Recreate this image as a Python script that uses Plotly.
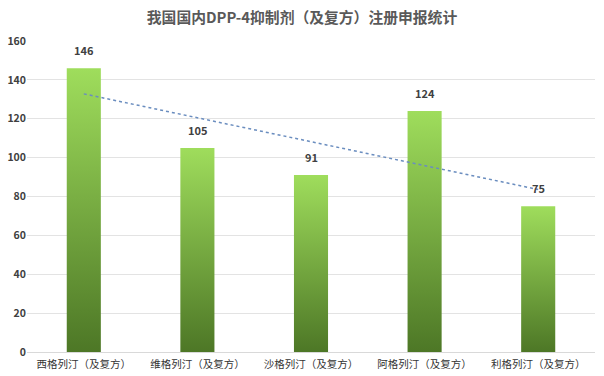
import numpy as np
import plotly.graph_objects as go

categories = ["西格列汀（及复方）", "维格列汀（及复方）", "沙格列汀（及复方）", "阿格列汀（及复方）", "利格列汀（及复方）"]
values = [146, 105, 91, 124, 75]
title = "我国国内DPP-4抑制剂（及复方）注册申报统计"
y_ticks = [0, 20, 40, 60, 80, 100, 120, 140, 160]

FONT = "Noto Sans CJK SC"
TXT = "#404040"
half = 0.15

fig = go.Figure()
idx = list(range(len(categories)))
for i, v in zip(idx, values):
    fig.add_trace(go.Scatter(
        x=[i - half, i + half, i + half, i - half, i - half],
        y=[0, 0, v, v, 0],
        mode="lines", fill="toself", line=dict(width=0),
        fillgradient=dict(type="vertical",
                          colorscale=[[0, "#4D7726"], [1, "#9FDD5C"]]),
        hoverinfo="skip", showlegend=False))

# trendline (linear fit)
k, b = np.polyfit(np.array(idx) + 1, values, 1)
tx = np.array(idx)
fig.add_trace(go.Scatter(x=tx, y=k * (tx + 1) + b, mode="lines",
                         line=dict(color="#6A8DBF", width=1.5, dash="dot"),
                         hoverinfo="skip", showlegend=False))

# data labels
for i, v in zip(idx, values):
    fig.add_annotation(x=i, y=v, text=str(v), showarrow=False, yanchor="bottom", yshift=8,
                       font=dict(family=FONT, size=11, color=TXT, weight="bold"))

fig.update_layout(
    width=604, height=376,
    margin=dict(l=27, r=9, t=41, b=24, autoexpand=False),
    paper_bgcolor="white", plot_bgcolor="white",
    title=dict(text=title, x=0.5, xanchor="center", y=1 - 18 / 376, yref="container",
               yanchor="middle",
               font=dict(family=FONT, size=14.8, color="#595959", weight="bold")),
    xaxis=dict(range=[-0.5, len(categories) - 0.5], tickvals=idx, ticktext=categories,
               showgrid=False, zeroline=False, showline=True, linecolor="#D9D9D9",
               ticks="", automargin=False, ticklabelstandoff=2,
               tickfont=dict(family=FONT, size=10.5, color="#333333")),
    yaxis=dict(range=[0, 160], tickvals=y_ticks, showgrid=True, gridcolor="#E3E3E3",
               zeroline=False, showline=False, ticks="", automargin=False,
               tickfont=dict(family=FONT, size=10.5, color=TXT, weight="bold")),
)
fig.write_html("out.html", config={"displayModeBar": False, "staticPlot": True},
               post_script="document.body.style.margin='0';document.body.style.overflow='hidden';")
